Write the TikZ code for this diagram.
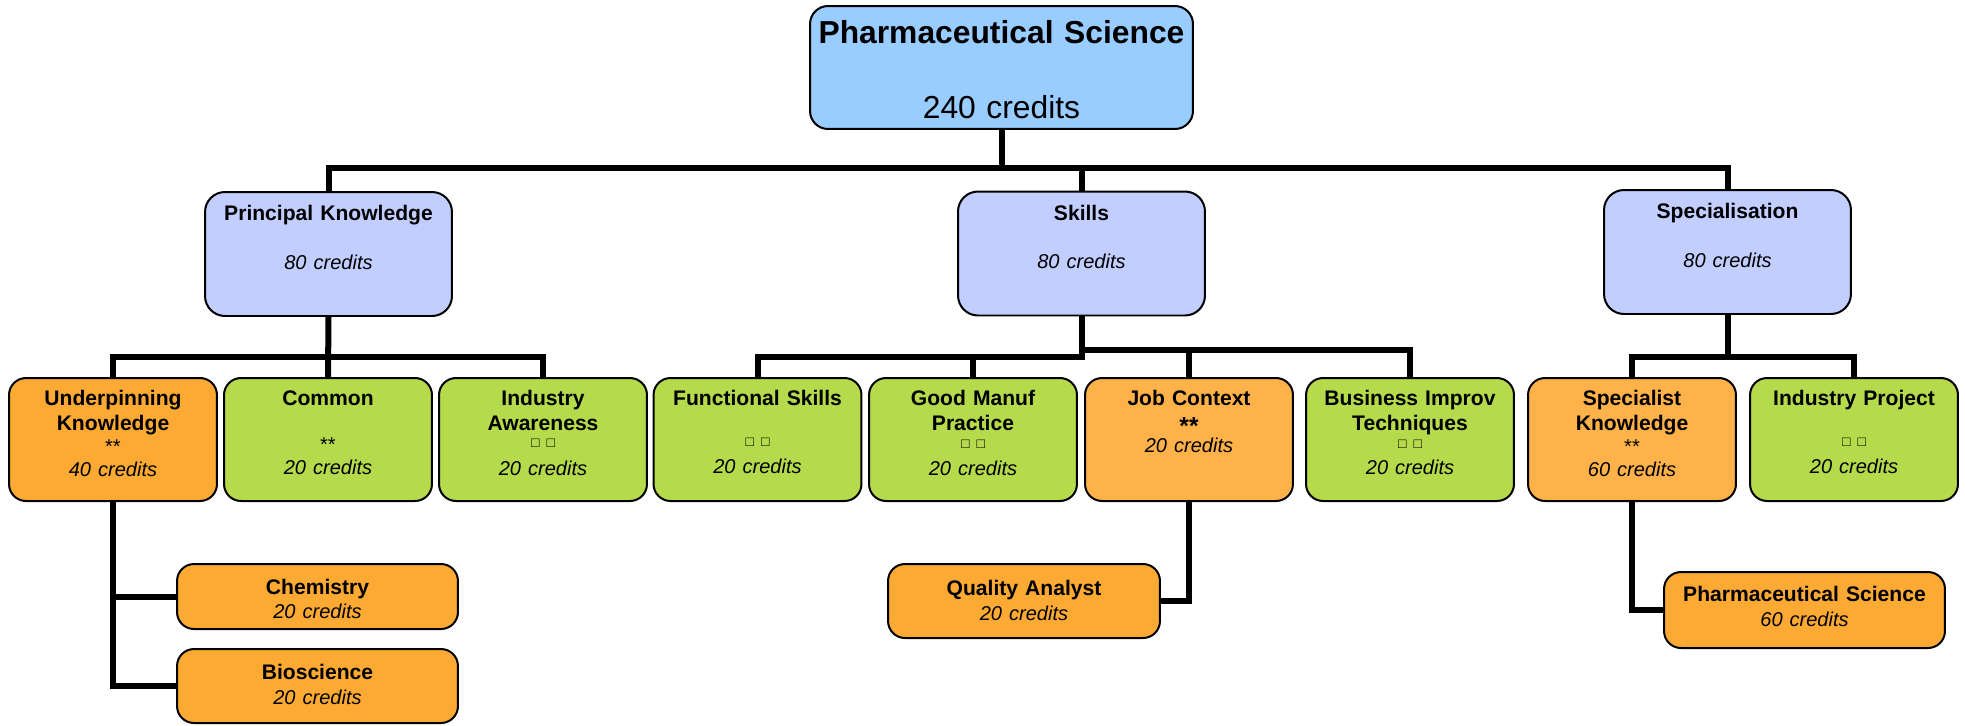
\documentclass[tikz,border=0pt]{standalone}
\usepackage{fontspec}
\setmainfont{Liberation Sans}
\usetikzlibrary{positioning, calc}

\definecolor{topblue}{HTML}{99CCFF}
\definecolor{groupblue}{HTML}{C2CEFF}
\definecolor{coregreen}{HTML}{B5DA4B}
\definecolor{lightorange}{HTML}{FFB24A}
\definecolor{deeporange}{HTML}{FCAA34}

\newcommand\crd[1]{{\mdseries\itshape\fontsize{11.4}{14.23}\selectfont #1}}
\newcommand\stars{{\mdseries\fontsize{11.4}{14.23}\selectfont **}}
\newcommand\sqs{{\mdseries\fontsize{8}{9}\selectfont □ □}}

\tikzset{
    box/.style={draw=black, line width=0.04cm, rounded corners=0.34cm,
        inner sep=0pt, align=center,
        font=\bfseries\fontsize{12}{14.23}\selectfont},
    groupbox/.style={box, fill=groupblue, rounded corners=0.4cm,
        text width=4.94cm, text height=0.57cm, text depth=1.91cm},
    corebox/.style={box, fill=coregreen,
        text width=4.16cm, text height=0.55cm, text depth=1.91cm},
    leafbox/.style={box, fill=deeporange},
    link/.style={line width=0.12cm}
}

\begin{document}
\begin{tikzpicture}[x=0.02cm, y=-0.02cm]
        \useasboundingbox (0, 0) rectangle (1965, 725);
        \coordinate (rail0) at (0, 168);
        \coordinate (rail1) at (0, 357);
        \coordinate (rail2) at (0, 350);
        % programme
        \node[box, fill=topblue, rounded corners=0.36cm, text width=7.66cm,
            text height=0.75cm, text depth=1.71cm,
            font=\bfseries\fontsize{18.1}{21.7}\selectfont]
            (top) at (1001.5, 67.5) {Pharmaceutical Science\\[0.74cm]\mdseries 240 credits};
        % groups
        \node[groupbox] (pk) at (328.5, 254) {Principal Knowledge\\[0.47cm]\crd{80 credits}};
        \node[groupbox] (skills) at (1081.5, 253.5) {Skills\\[0.47cm]\crd{80 credits}};
        \node[groupbox] (spec) at (1727.5, 252) {Specialisation\\[0.47cm]\crd{80 credits}};
        % modules
        \node[corebox, fill=deeporange] (uk) at (113, 439.5)
            {Underpinning\\Knowledge\\[-0.04cm]\stars\\[-0.05cm]\crd{40 credits}};
        \node[corebox] (common) at (328, 439.5)
            {Common\\[0.42cm]\stars\\[-0.05cm]\crd{20 credits}};
        \node[corebox] (ia) at (543, 439.5)
            {Industry\\Awareness\\[-0.17cm]\sqs\\[0.06cm]\crd{20 credits}};
        \node[corebox] (fs) at (757.5, 439.5)
            {Functional Skills\\[0.32cm]\sqs\\[0.03cm]\crd{20 credits}};
        \node[corebox] (gmp) at (973, 439.5)
            {Good Manuf\\Practice\\[-0.15cm]\sqs\\[0.04cm]\crd{20 credits}};
        \node[corebox, fill=lightorange] (jc) at (1189, 439.5)
            {Job Context\\[0.07cm]{\fontsize{14}{16}\selectfont **}\\[-0.14cm]\crd{20 credits}};
        \node[corebox] (bit) at (1410, 439.5)
            {Business Improv\\Techniques\\[-0.15cm]\sqs\\[0.02cm]\crd{20 credits}};
        \node[corebox, fill=lightorange] (sk) at (1632, 439.5)
            {Specialist\\Knowledge\\[-0.04cm]\stars\\[-0.05cm]\crd{60 credits}};
        \node[corebox] (ip) at (1854, 439.5)
            {Industry Project\\[0.32cm]\sqs\\[0.03cm]\crd{20 credits}};
        % routes
        \node[leafbox, text width=5.62cm, text height=0.61cm, text depth=0.69cm]
            (chem) at (317.5, 596.5) {Chemistry\\[-0.03cm]\crd{20 credits}};
        \node[leafbox, text width=5.62cm, text height=0.61cm, text depth=0.87cm]
            (bio) at (317.5, 686) {Bioscience\\\crd{20 credits}};
        \node[leafbox, text width=5.44cm, text height=0.63cm, text depth=0.85cm]
            (qa) at (1024, 601) {Quality Analyst\\\crd{20 credits}};
        \node[leafbox, text width=5.62cm, text height=0.59cm, text depth=0.93cm]
            (ps) at (1804.5, 610) {Pharmaceutical Science\\\crd{60 credits}};
        % tree lines
        \draw[link] (top.south) -- (top.south |- rail0);
        \draw[link] (pk.north) |- (spec.north |- rail0) -- (spec.north);
        \draw[link] (skills.north) -- (skills.north |- rail0);
        \draw[link] (pk.south) -- (common.north);
        \draw[link] (uk.north) |- (ia.north |- rail1) -- (ia.north);
        \draw[link] (skills.south) |- (fs.north |- rail1) -- (fs.north);
        \draw[link] (gmp.north) -- (gmp.north |- rail1);
        \draw[link] (skills.south |- rail2) -| (bit.north);
        \draw[link] (jc.north) -- (jc.north |- rail2);
        \draw[link] (spec.south) -- (spec.south |- rail1);
        \draw[link] (sk.north) |- (ip.north |- rail1) -- (ip.north);
        \draw[link] (uk.south) |- (chem.west);
        \draw[link] (uk.south) |- (bio.west);
        \draw[link] (jc.south) |- (qa.east);
        \draw[link] (sk.south) |- (ps.west);
\end{tikzpicture}
\end{document}
